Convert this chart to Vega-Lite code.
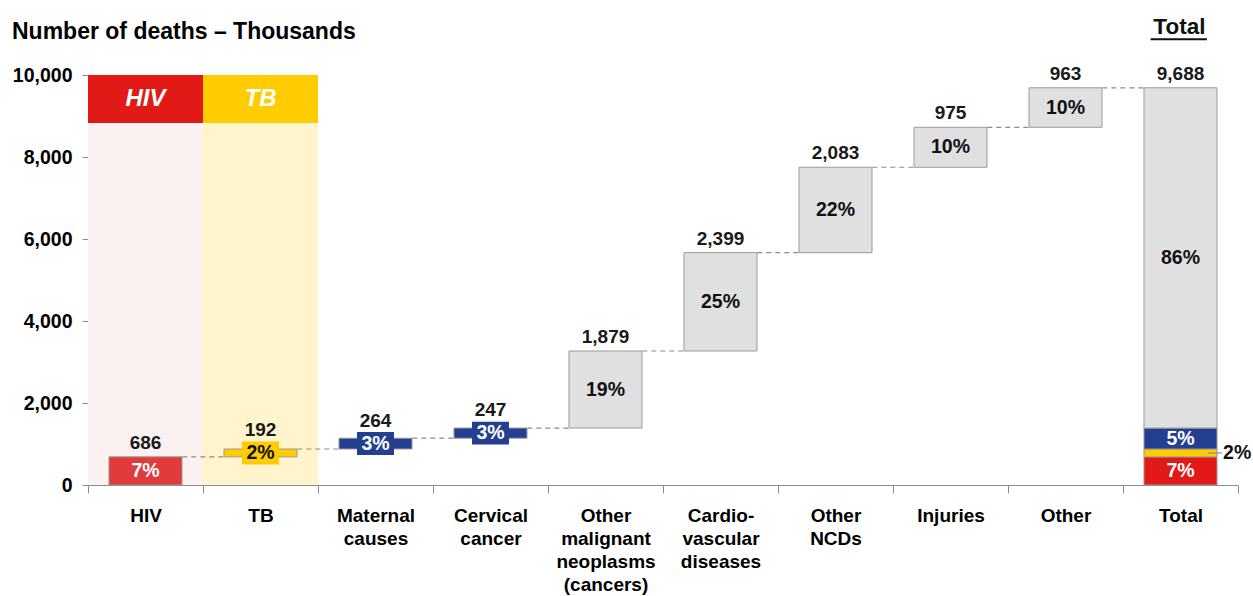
{
  "$schema": "https://vega.github.io/schema/vega-lite/v6.json",
  "width": 1150,
  "height": 410,
  "autosize": {"type": "none"},
  "padding": {"left": 88, "top": 75, "right": 15, "bottom": 111},
  "background": "white",
  "config": {
    "font": "Liberation Sans",
    "view": {"stroke": null}
  },
  "title": {
    "text": "Number of deaths – Thousands",
    "anchor": "start",
    "frame": "group",
    "dx": -76,
    "offset": -28,
    "fontSize": 23,
    "fontWeight": "bold",
    "color": "#000000"
  },
  "datasets": {
    "bands": [
      {"cat": "HIV", "group": "hiv", "head": "HIV"},
      {"cat": "TB", "group": "tb", "head": "TB"}
    ],
    "bars": [
      {"cat": "HIV", "start": 0, "end": 686, "value": 686, "pct": "7%", "group": "hivbar", "small": false},
      {"cat": "TB", "start": 686, "end": 878, "value": 192, "pct": "2%", "group": "tb", "small": true},
      {"cat": "Maternal|causes", "start": 878, "end": 1142, "value": 264, "pct": "3%", "group": "blue", "small": true},
      {"cat": "Cervical|cancer", "start": 1142, "end": 1389, "value": 247, "pct": "3%", "group": "blue", "small": true},
      {"cat": "Other|malignant|neoplasms|(cancers)", "start": 1389, "end": 3268, "value": 1879, "pct": "19%", "group": "gray", "small": false},
      {"cat": "Cardio-|vascular|diseases", "start": 3268, "end": 5667, "value": 2399, "pct": "25%", "group": "gray", "small": false},
      {"cat": "Other|NCDs", "start": 5667, "end": 7750, "value": 2083, "pct": "22%", "group": "gray", "small": false},
      {"cat": "Injuries", "start": 7750, "end": 8725, "value": 975, "pct": "10%", "group": "gray", "small": false},
      {"cat": "Other", "start": 8725, "end": 9688, "value": 963, "pct": "10%", "group": "gray", "small": false},
      {"cat": "Total", "start": 0, "end": 686, "value": null, "pct": "7%", "group": "hiv", "small": false},
      {"cat": "Total", "start": 686, "end": 878, "value": null, "pct": "", "group": "tb", "small": false},
      {"cat": "Total", "start": 878, "end": 1389, "value": null, "pct": "5%", "group": "blue", "small": false},
      {"cat": "Total", "start": 1389, "end": 9688, "value": 9688, "pct": "86%", "group": "gray", "small": false}
    ],
    "links": [
      {"cat": "HIV", "next": "TB", "level": 686},
      {"cat": "TB", "next": "Maternal|causes", "level": 878},
      {"cat": "Maternal|causes", "next": "Cervical|cancer", "level": 1142},
      {"cat": "Cervical|cancer", "next": "Other|malignant|neoplasms|(cancers)", "level": 1389},
      {"cat": "Other|malignant|neoplasms|(cancers)", "next": "Cardio-|vascular|diseases", "level": 3268},
      {"cat": "Cardio-|vascular|diseases", "next": "Other|NCDs", "level": 5667},
      {"cat": "Other|NCDs", "next": "Injuries", "level": 7750},
      {"cat": "Injuries", "next": "Other", "level": 8725},
      {"cat": "Other", "next": "Total", "level": 9688}
    ],
    "callout": [
      {"cat": "Total", "level": 782, "label": "2%", "header": "Total"}
    ]
  },
  "encoding": {
    "x": {
      "field": "cat",
      "type": "nominal",
      "sort": null,
      "scale": {
        "domain": ["HIV", "TB", "Maternal|causes", "Cervical|cancer", "Other|malignant|neoplasms|(cancers)", "Cardio-|vascular|diseases", "Other|NCDs", "Injuries", "Other", "Total"],
        "paddingInner": 0,
        "paddingOuter": 0
      },
      "axis": {
        "title": null,
        "labelAngle": 0,
        "labelExpr": "isValid(datum.value) ? split(datum.value, '|') : ''",
        "labelFontSize": 19,
        "labelFontWeight": "bold",
        "labelColor": "#000000",
        "labelLineHeight": 23,
        "labelBaseline": "top",
        "labelPadding": 13,
        "tickBand": "extent",
        "tickSize": 8,
        "tickColor": "#8c8c8c",
        "domainColor": "#8c8c8c",
        "labelLimit": 200
      }
    }
  },
  "layer": [
    {
      "data": {"name": "bands"},
      "mark": {"type": "bar", "width": {"band": 1}},
      "encoding": {
        "y": {"datum": 0, "type": "quantitative", "scale": {"domain": [0, 10000], "nice": false}, "axis": {"title": null, "values": [0, 2000, 4000, 6000, 8000, 10000], "labelExpr": "format(datum.value, ',')", "labelFontSize": 19.5, "labelFontWeight": "bold", "labelColor": "#000000", "tickSize": 6, "labelPadding": 10, "tickColor": "#8c8c8c", "domainColor": "#8c8c8c", "grid": false}},
        "y2": {"datum": 8830},
        "fill": {"condition": {"test": "datum.group === 'hiv'", "value": "#FCF1F1"}, "value": "#FFF4CC"}
      }
    },
    {
      "data": {"name": "bands"},
      "mark": {"type": "bar", "width": {"band": 1}},
      "encoding": {
        "y": {"datum": 8830, "type": "quantitative"},
        "y2": {"datum": 10000},
        "fill": {"condition": {"test": "datum.group === 'hiv'", "value": "#E21A17"}, "value": "#FFCC00"}
      }
    },
    {
      "data": {"name": "bands"},
      "mark": {"type": "text", "fontSize": 24, "fontWeight": "bold", "fontStyle": "italic", "color": "white", "baseline": "middle"},
      "encoding": {
        "y": {"datum": 9415, "type": "quantitative"},
        "text": {"field": "head"}
      }
    },
    {
      "data": {"name": "links"},
      "mark": {"type": "rule", "strokeDash": [5, 4], "color": "#8c8c8c", "strokeWidth": 1.2},
      "encoding": {
        "x": {"field": "cat", "type": "nominal", "bandPosition": 0.82},
        "x2": {"field": "next", "bandPosition": 0.18},
        "y": {"field": "level", "type": "quantitative"}
      }
    },
    {
      "data": {"name": "bars"},
      "mark": {"type": "bar", "width": {"band": 0.635}, "stroke": "#9a9a9a", "strokeWidth": 1},
      "encoding": {
        "y": {"field": "start", "type": "quantitative"},
        "y2": {"field": "end"},
        "color": {
          "field": "group",
          "type": "nominal",
          "legend": null,
          "scale": {"domain": ["hivbar", "hiv", "tb", "blue", "gray"], "range": ["#E23B3B", "#E21A17", "#FFCC00", "#233F8F", "#E0E0E0"]}
        }
      }
    },
    {
      "data": {"name": "bars"},
      "transform": [
        {"filter": "datum.small"},
        {"calculate": "(datum.start + datum.end) / 2", "as": "mid"}
      ],
      "mark": {"type": "point", "filled": true, "opacity": 1, "shape": "M-1,-0.62H1V0.62H-1Z", "size": 1369, "strokeWidth": 0},
      "encoding": {
        "y": {"field": "mid", "type": "quantitative"},
        "color": {"field": "group", "type": "nominal", "legend": null}
      }
    },
    {
      "data": {"name": "bars"},
      "transform": [
        {"filter": "datum.pct !== ''"},
        {"calculate": "(datum.start + datum.end) / 2", "as": "mid"}
      ],
      "mark": {"type": "text", "fontSize": 19.5, "fontWeight": "bold", "baseline": "middle"},
      "encoding": {
        "y": {"field": "mid", "type": "quantitative"},
        "text": {"field": "pct"},
        "color": {"condition": {"test": "datum.group === 'tb' || datum.group === 'gray'", "value": "#111111"}, "value": "#ffffff"}
      }
    },
    {
      "data": {"name": "bars"},
      "transform": [{"filter": "datum.value != null && !datum.small"}],
      "mark": {"type": "text", "fontSize": 19, "fontWeight": "bold", "baseline": "alphabetic", "dy": -8, "color": "#1a1a1a"},
      "encoding": {
        "y": {"field": "end", "type": "quantitative"},
        "text": {"field": "value", "format": ","}
      }
    },
    {
      "data": {"name": "bars"},
      "transform": [
        {"filter": "datum.small"},
        {"calculate": "(datum.start + datum.end) / 2", "as": "mid"}
      ],
      "mark": {"type": "text", "fontSize": 19, "fontWeight": "bold", "baseline": "alphabetic", "dy": -17, "color": "#1a1a1a"},
      "encoding": {
        "y": {"field": "mid", "type": "quantitative"},
        "text": {"field": "value", "format": ","}
      }
    },
    {
      "data": {"name": "callout"},
      "mark": {"type": "rule", "color": "#8c8c8c", "strokeWidth": 1.2},
      "encoding": {
        "x": {"field": "cat", "type": "nominal", "bandPosition": 0.74},
        "x2": {"field": "cat", "bandPosition": 0.86},
        "y": {"field": "level", "type": "quantitative"}
      }
    },
    {
      "data": {"name": "callout"},
      "mark": {"type": "text", "fontSize": 19.5, "fontWeight": "bold", "align": "left", "baseline": "middle", "color": "#111111"},
      "encoding": {
        "x": {"field": "cat", "type": "nominal", "bandPosition": 0.87},
        "y": {"field": "level", "type": "quantitative"},
        "text": {"field": "label"}
      }
    },
    {
      "data": {"name": "callout"},
      "mark": {"type": "text", "fontSize": 22.5, "fontWeight": "bold", "baseline": "middle", "color": "#111111"},
      "encoding": {
        "x": {"field": "cat", "type": "nominal", "bandPosition": 0.49},
        "y": {"datum": 11170, "type": "quantitative"},
        "text": {"field": "header"}
      }
    },
    {
      "data": {"name": "callout"},
      "mark": {"type": "rule", "color": "#111111", "strokeWidth": 2},
      "encoding": {
        "x": {"field": "cat", "type": "nominal", "bandPosition": 0.24},
        "x2": {"field": "cat", "bandPosition": 0.73},
        "y": {"datum": 10870, "type": "quantitative"}
      }
    }
  ]
}
